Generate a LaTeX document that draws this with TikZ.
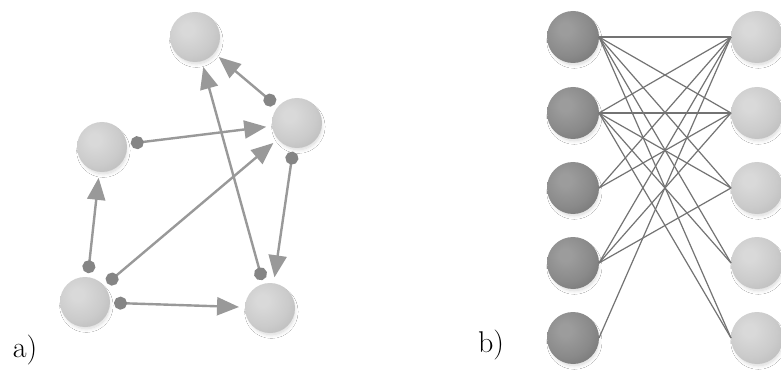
\documentclass[tikz,border=0pt]{standalone}
\usetikzlibrary{arrows.meta,shadows.blur}

\definecolor{lhi}{HTML}{D9D9D9}
\definecolor{lmid}{HTML}{CBCBCB}
\definecolor{ledge}{HTML}{B6B6B6}
\definecolor{dhi}{HTML}{9C9C9C}
\definecolor{dmid}{HTML}{8A8A8A}
\definecolor{dedge}{HTML}{6E6E6E}
\definecolor{edgegray}{HTML}{999999}
\definecolor{dotgray}{HTML}{858585}
\definecolor{wiregray}{HTML}{737373}

\pgfdeclareradialshading{lightsphere}{\pgfpoint{-8bp}{8bp}}{%
  color(0bp)=(lhi); color(6bp)=(lhi); color(24bp)=(lmid); color(42bp)=(ledge); color(100bp)=(ledge)}
\pgfdeclareradialshading{darksphere}{\pgfpoint{-8bp}{8bp}}{%
  color(0bp)=(dhi); color(6bp)=(dhi); color(24bp)=(dmid); color(42bp)=(dedge); color(100bp)=(dedge)}

\tikzset{
  sphere/.style={circle, minimum size=50pt, inner sep=0pt, outer sep=0pt,
    shading=lightsphere,
    blur shadow={shadow xshift=1.5pt, shadow yshift=-4pt, shadow scale=0.92,
      shadow blur radius=4pt, shadow blur steps=8, shadow opacity=16}},
  darkball/.style={sphere, minimum size=52pt, shading=darksphere},
  lightball/.style={sphere, minimum size=52pt},
  link/.style={draw=edgegray, fill=edgegray, line width=2.4pt,
    {Circle[length=13pt,color=dotgray]}-{Triangle[length=22pt,width=18pt]},
    shorten <=4pt, shorten >=6pt},
  wire/.style={draw=wiregray, line width=1.2pt},
  tag/.style={font=\fontsize{30}{34}\selectfont, inner sep=0pt}
}

\begin{document}
\begin{tikzpicture}[x=1pt, y=-1pt]
  \path[use as bounding box, fill=white] (0,0) rectangle (781,374);

  % a) recurrent graph
  \node[sphere] (t)  at (195,37)  {};
  \node[sphere] (r)  at (297,123) {};
  \node[sphere] (l)  at (102,147) {};
  \node[sphere] (bl) at (85,302)  {};
  \node[sphere] (br) at (270,308) {};

  \draw[link] (r)  -- (t);
  \draw[link] (l)  -- (r);
  \draw[link] (bl) -- (l);
  \draw[link] (bl) -- (r);
  \draw[link] (bl) -- (br);
  \draw[link] (br) -- (t);
  \draw[link] (r)  -- (br);

  \node[tag] (la) at (25,350) {a)};

  % b) two-layer network
  \foreach \i/\y in {1/37,2/113,3/188,4/263,5/338} {
    \node[darkball]  (p\i) at (573,\y) {};
    \node[lightball] (q\i) at (757,\y) {};
  }

  \foreach \a/\b in {1/1,1/2,1/3,1/4,1/5,
                     2/1,2/2,2/3,2/4,2/5,
                     3/1,3/2,
                     4/1,4/2,4/3,
                     5/1} {
    \draw[wire] (p\a.east) -- (q\b.west);
  }

  \node[tag] (lb) at (491,345) {b)};
\end{tikzpicture}
\end{document}
